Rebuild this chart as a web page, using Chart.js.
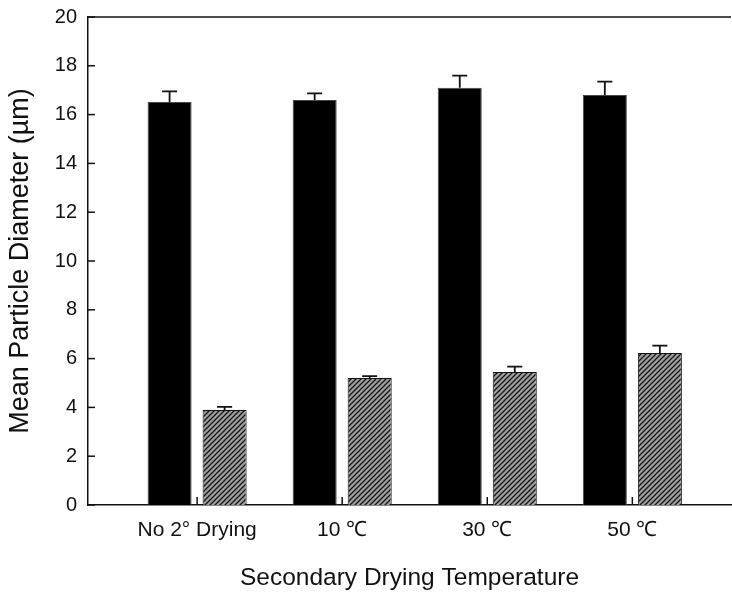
<!DOCTYPE html>
<html>
<head>
<meta charset="utf-8">
<script src="https://cdn.jsdelivr.net/npm/chart.js@4.4.1/dist/chart.umd.min.js"></script>
<style>
  html, body { margin: 0; padding: 0; background: #fff; }
  #wrap { width: 732px; height: 604px; }
</style>
</head>
<body>
<div id="wrap"><canvas id="myChart" width="732" height="604"></canvas></div>
<script>
// data
const categories = ["No 2\u00b0 Drying", "10 \u2103", "30 \u2103", "50 \u2103"];
const blackValues = [16.52, 16.6, 17.1, 16.8];
const blackErrors = [0.43, 0.27, 0.5, 0.55];
const hatchValues = [3.89, 5.2, 5.45, 6.23];
const hatchErrors = [0.13, 0.08, 0.22, 0.3];
const yTicks = [0, 2, 4, 6, 8, 10, 12, 14, 16, 18, 20];

const FONT = "'Liberation Sans', Arial, Helvetica, sans-serif";

// diagonal hatch pattern for the second series
function makeHatch() {
  const c = document.createElement("canvas");
  c.width = 5;
  c.height = 5;
  const g = c.getContext("2d");
  g.fillStyle = "#a0a0a0";
  g.fillRect(0, 0, 5, 5);
  g.strokeStyle = "#151515";
  g.lineWidth = 1.3;
  g.beginPath();
  g.moveTo(-1, 6); g.lineTo(6, -1);
  g.moveTo(-1, 1); g.lineTo(1, -1);
  g.moveTo(4, 6); g.lineTo(6, 4);
  g.stroke();
  return g.createPattern(c, "repeat");
}

const toPoints = (vals) => vals.map((v, i) => ({ x: i + 1, y: v }));

// error bars (upper half only) + inward ticks + top frame line
const extras = {
  id: "extras",
  afterDatasetsDraw(chart) {
    const ctx = chart.ctx;
    const y = chart.scales.y;
    const x = chart.scales.x;
    const area = chart.chartArea;
    const errs = [blackErrors, hatchErrors];
    ctx.save();
    ctx.strokeStyle = "#111";
    ctx.lineWidth = 1.8;
    chart.data.datasets.forEach((ds, di) => {
      const meta = chart.getDatasetMeta(di);
      meta.data.forEach((bar, i) => {
        const top = y.getPixelForValue(ds.data[i].y + errs[di][i]);
        ctx.beginPath();
        ctx.moveTo(bar.x, bar.y);
        ctx.lineTo(bar.x, top);
        ctx.moveTo(bar.x - 7.5, top);
        ctx.lineTo(bar.x + 7.5, top);
        ctx.stroke();
      });
    });
    ctx.lineWidth = 1.5;
    // y ticks pointing into the plot
    yTicks.forEach((t) => {
      const py = y.getPixelForValue(t);
      ctx.beginPath();
      ctx.moveTo(area.left, py);
      ctx.lineTo(area.left + 7, py);
      ctx.stroke();
    });
    // x ticks at the category centres
    categories.forEach((c, i) => {
      const px = x.getPixelForValue(i + 1);
      ctx.beginPath();
      ctx.moveTo(px, area.bottom);
      ctx.lineTo(px, area.bottom - 8);
      ctx.stroke();
    });
    // top frame line
    ctx.beginPath();
    ctx.moveTo(area.left, area.top);
    ctx.lineTo(area.right, area.top);
    ctx.stroke();
    ctx.restore();
  }
};

new Chart(document.getElementById("myChart"), {
  type: "bar",
  data: {
    datasets: [
      {
        label: "black",
        data: toPoints(blackValues),
        backgroundColor: "#000",
        borderColor: "#444",
        borderWidth: 1,
        categoryPercentage: 0.7586,
        barPercentage: 0.8,
      },
      {
        label: "hatched",
        data: toPoints(hatchValues),
        backgroundColor: makeHatch(),
        borderColor: "#111",
        borderWidth: 1,
        categoryPercentage: 0.7586,
        barPercentage: 0.8,
      },
    ],
  },
  options: {
    responsive: false,
    animation: false,
    layout: { padding: { top: 17, right: 1, left: 0, bottom: 0 } },
    plugins: {
      legend: { display: false },
      tooltip: { enabled: false },
    },
    scales: {
      x: {
        type: "linear",
        min: 0.248,
        max: 4.68,
        offset: false,
        grid: { display: false, drawTicks: false, offset: false },
        border: { display: true, color: "#111", width: 1.5 },
        afterBuildTicks: (scale) => {
          scale.ticks = categories.map((c, i) => ({ value: i + 1 }));
        },
        afterFit: (scale) => {
          scale.height = 99;
          scale.paddingLeft = 0;
          scale.paddingRight = 0;
        },
        ticks: {
          padding: 13,
          maxRotation: 0,
          color: "#111",
          font: { family: FONT, size: 21 },
          callback: (v, i) => categories[i],
        },
        title: {
          display: true,
          text: "Secondary Drying Temperature",
          color: "#111",
          font: { family: FONT, size: 24.5 },
          padding: { top: 0, bottom: 11 },
        },
      },
      y: {
        min: 0,
        max: 20,
        grid: { display: false, drawTicks: false },
        border: { display: true, color: "#111", width: 1.5 },
        afterFit: (scale) => {
          scale.width = 88;
          scale.paddingTop = 0;
          scale.paddingBottom = 0;
        },
        ticks: {
          stepSize: 2,
          padding: 11,
          color: "#111",
          font: { family: FONT, size: 20 },
        },
        title: {
          display: true,
          text: "Mean Particle Diameter (\u00b5m)",
          color: "#111",
          font: { family: FONT, size: 27 },
          padding: { top: 4, bottom: 0 },
        },
      },
    },
  },
  plugins: [extras],
});
</script>
</body>
</html>
